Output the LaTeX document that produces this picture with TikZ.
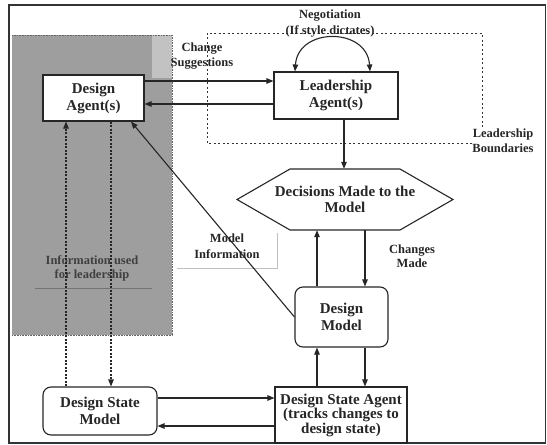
\documentclass[tikz,border=0pt]{standalone}
\usepackage{fontspec}
\setmainfont{Liberation Serif}
\usetikzlibrary{arrows.meta,calc}
\begin{document}
\begin{tikzpicture}[x=1pt,y=-1pt,
  box/.style={draw=black!85,fill=white,line width=1.1pt,align=center,inner sep=0pt,
    text=black!85,font=\fontsize{15}{17}\selectfont\bfseries},
  rbox/.style={box,rounded corners=8pt},
  lbl/.style={align=center,inner sep=0pt,text=black!85,font=\fontsize{12.5}{15}\selectfont\bfseries},
  arr/.style={line width=1.1pt,draw=black!85,-{Triangle[length=7pt,width=5.5pt]}},
  darr/.style={arr,dash pattern=on 2pt off 1.5pt},
  bound/.style={line width=1pt,draw=black!80,dash pattern=on 2pt off 2.5pt}
]
\useasboundingbox (0,0) rectangle (547,445);

% outer frame
\draw[line width=1.2pt,black!80] (9,5) rectangle (545.5,443);
\draw[line width=2pt,black!80] (9,5) -- (545.5,5);

% shaded area of the design agents
\fill[black!38] (12,35) rectangle (172,335);
\fill[black!24] (152,35) rectangle (172,78);
\draw[black!60,line width=0.6pt,densely dotted] (12,335) -- (172,335) -- (172,35) -- (12,35);

% leadership boundaries
\node[lbl] (lb) at (503,140.5) {Leadership\\Boundaries};
\draw[bound] (lb.west |- 0,143) -- (207,143) -- (207,33) -- (482,33) -- (482,127);

% boxes
\node[box,minimum width=101pt,minimum height=46pt] (da) at (93.5,98) {Design\\Agent(s)};
\node[box,minimum width=124pt,minimum height=47pt] (la) at (336,95.5) {Leadership\\Agent(s)};
\node[rbox,minimum width=93pt,minimum height=60pt] (dm) at (341.5,317) {Design\\Model};
\node[box,minimum width=132pt,minimum height=56pt,font=\fontsize{15}{14.5}\selectfont\bfseries] (dsa) at (341,415)
  {Design State Agent\\(tracks changes to\\design state)};
\node[rbox,minimum width=114pt,minimum height=48pt] (dsm) at (100,411) {Design State\\Model};

% decisions hexagon
\draw[line width=1.1pt,black!85] (290,169) -- (400,169) -- (453,199.5) -- (400,230) -- (290,230) -- (237,199.5) -- cycle;
\node[align=center,inner sep=0pt,minimum height=61pt,text=black!85,font=\fontsize{15}{16}\selectfont\bfseries] (dec) at (345,199.5)
  {Decisions Made to the\\Model};

% labels
\node[lbl,font=\fontsize{12.5}{16.5}\selectfont\bfseries] (neg) at (330,23.5) {Negotiation\\(If style dictates)};
\node[lbl] (cs) at (202,56.5) {Change\\Suggestions};
\node[lbl,font=\fontsize{12.5}{14}\selectfont\bfseries] (cm) at (412,256) {Changes\\Made};
\node[lbl,font=\fontsize{12.5}{16}\selectfont\bfseries] (mi) at (227,246) {Model\\Information};
\node[lbl,text=black!75,font=\fontsize{12.5}{14}\selectfont\bfseries] (info) at (92,268) {Information used\\for leadership};
\draw[black!55,line width=0.8pt] (35,288) -- (152,288);
\draw[black!25,line width=0.8pt] (277,233) -- (277,268) -- (177,268);

% connectors
\draw[arr] (da.east |- 0,81) -- (la.west |- 0,81);
\draw[arr] (la.west |- 0,104) -- (da.east |- 0,104);
\draw[arr] (la.south -| 344,0) -- (dec.north -| 344,0);
\draw[arr] (dm.north -| 317,0) -- (dec.south -| 317,0);
\draw[arr] (dec.south -| 365,0) -- (dm.north -| 365,0);
\draw[arr] (dsa.north -| 317,0) -- (dm.south -| 317,0);
\draw[arr] (dm.south -| 365,0) -- (dsa.north -| 365,0);
\draw[arr] (dsm.east |- 0,398) -- (dsa.west |- 0,398);
\draw[arr] (dsa.west |- 0,426) -- (dsm.east |- 0,426);
\draw[darr] (dsm.north -| 66,0) -- (da.south -| 66,0);
\draw[darr] (da.south -| 111,0) -- (dsm.north -| 111,0);
\draw[arr] (dm.west) -- (da.south -| 131,0);
\draw[line width=1.1pt,draw=black!85,{Triangle[length=7pt,width=5.5pt]}-{Triangle[length=7pt,width=5.5pt]}]
  (la.north -| 295,0) .. controls (298,27) and (367,27) .. (la.north -| 370,0);
\end{tikzpicture}
\end{document}
